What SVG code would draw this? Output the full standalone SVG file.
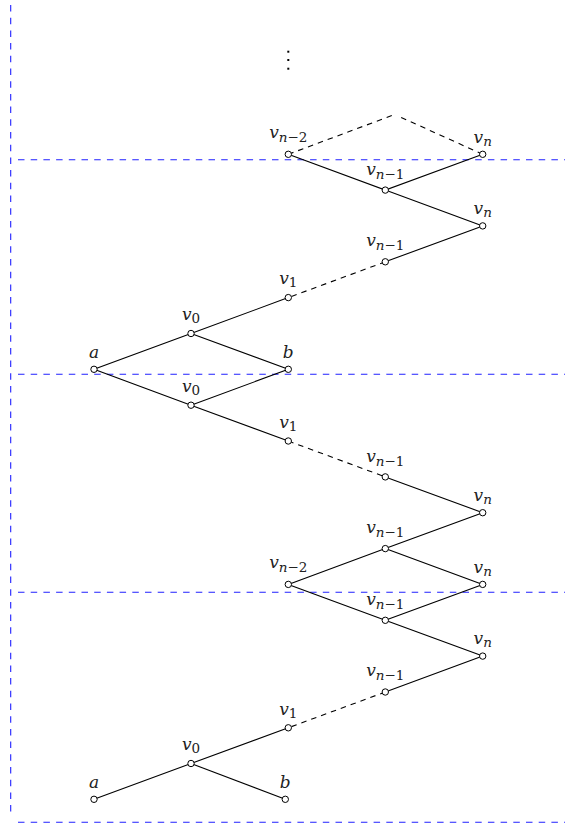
<svg xmlns="http://www.w3.org/2000/svg" width="565" height="826" viewBox="0 0 565 826">
<style>
.e{stroke:#000;stroke-width:1.1;fill:none}
.d{stroke:#000;stroke-width:1.1;fill:none;stroke-dasharray:5.5 5}
.g{stroke:#2020ff;stroke-width:1.1;fill:none;stroke-dasharray:6.5 6.2}
.n{fill:#fff;stroke:#000;stroke-width:1}
.t{font-family:'DejaVu Serif','Liberation Serif',serif;font-size:17px;fill:#222}
.i{font-style:italic}
.s{font-size:13.5px}
</style>
<rect width="565" height="826" fill="#fff"/>
<g id="guides">
<line class="g" x1="10.7" y1="5" x2="10.7" y2="812"/>
<line class="g" x1="18" y1="159.8" x2="565" y2="159.8"/>
<line class="g" x1="18" y1="374.3" x2="565" y2="374.3"/>
<line class="g" x1="18" y1="592.3" x2="565" y2="592.3"/>
<line class="g" x1="18" y1="822.3" x2="565" y2="822.3"/>
</g>
<g id="dots" fill="#000">
<rect x="287.3" y="50.7" width="2" height="2"/>
<rect x="287.3" y="59" width="2" height="2"/>
<rect x="287.3" y="67.7" width="2" height="2"/>
</g>
<g id="connectors">
<line class="d" x1="288.3" y1="154.3" x2="392" y2="115.5"/>
<line class="d" x1="482.7" y1="154.3" x2="397" y2="115.5"/>
<polyline class="e" points="288.3,154.3 385.3,190.1 482.7,154.3"/>
<polyline class="e" points="385.3,190.1 482.7,225.9 385.3,261.8"/>
<line class="d" x1="385.3" y1="261.8" x2="288.3" y2="297.6"/>
<polyline class="e" points="288.3,297.6 191,333.5 94,369.3 191,405.2 288.3,441"/>
<polyline class="e" points="191,333.5 288.3,369.3 191,405.2"/>
<line class="d" x1="288.3" y1="441" x2="385.3" y2="476.9"/>
<polyline class="e" points="385.3,476.9 482.7,512.7 385.3,548.6 482.7,584.4 385.3,620.3 482.7,656.1 385.3,692"/>
<polyline class="e" points="385.3,548.6 288.3,584.4 385.3,620.3"/>
<line class="d" x1="385.3" y1="692" x2="288.3" y2="727.8"/>
<polyline class="e" points="288.3,727.8 191,763.5 94,799.3"/>
<line class="e" x1="191" y1="763.5" x2="285.3" y2="799.3"/>
</g>
<g class="t" font-family="'DejaVu Serif','Liberation Serif',serif">
<g id="n1"><circle class="n" cx="288.3" cy="154.3" r="3.2"/><text x="288.3" y="138.3" text-anchor="middle"><tspan class="i">v</tspan><tspan class="s" dy="4"><tspan class="i">n</tspan>−2</tspan></text></g>
<g id="n2"><circle class="n" cx="482.7" cy="154.3" r="3.2"/><text x="482.7" y="142.5" text-anchor="middle"><tspan class="i">v</tspan><tspan class="s i" dy="3">n</tspan></text></g>
<g id="n3"><circle class="n" cx="385.3" cy="190.1" r="3.2"/><text x="385.3" y="174.5" text-anchor="middle"><tspan class="i">v</tspan><tspan class="s" dy="4"><tspan class="i">n</tspan>−1</tspan></text></g>
<g id="n4"><circle class="n" cx="482.7" cy="225.9" r="3.2"/><text x="482.7" y="214" text-anchor="middle"><tspan class="i">v</tspan><tspan class="s i" dy="3">n</tspan></text></g>
<g id="n5"><circle class="n" cx="385.3" cy="261.8" r="3.2"/><text x="385.3" y="246.2" text-anchor="middle"><tspan class="i">v</tspan><tspan class="s" dy="4"><tspan class="i">n</tspan>−1</tspan></text></g>
<g id="n6"><circle class="n" cx="288.3" cy="297.6" r="3.2"/><text x="288.3" y="284.3" text-anchor="middle"><tspan class="i">v</tspan><tspan class="s" dy="3">1</tspan></text></g>
<g id="n7"><circle class="n" cx="191" cy="333.5" r="3.2"/><text x="191" y="320" text-anchor="middle"><tspan class="i">v</tspan><tspan class="s" dy="3">0</tspan></text></g>
<g id="n8"><circle class="n" cx="94" cy="369.3" r="3.2"/><text class="i" x="94" y="357.5" text-anchor="middle">a</text></g>
<g id="n9"><circle class="n" cx="288.3" cy="369.3" r="3.2"/><text class="i" x="288.3" y="357.5" text-anchor="middle">b</text></g>
<g id="n10"><circle class="n" cx="191" cy="405.2" r="3.2"/><text x="191" y="391.7" text-anchor="middle"><tspan class="i">v</tspan><tspan class="s" dy="3">0</tspan></text></g>
<g id="n11"><circle class="n" cx="288.3" cy="441" r="3.2"/><text x="288.3" y="427.7" text-anchor="middle"><tspan class="i">v</tspan><tspan class="s" dy="3">1</tspan></text></g>
<g id="n12"><circle class="n" cx="385.3" cy="476.9" r="3.2"/><text x="385.3" y="461.5" text-anchor="middle"><tspan class="i">v</tspan><tspan class="s" dy="4"><tspan class="i">n</tspan>−1</tspan></text></g>
<g id="n13"><circle class="n" cx="482.7" cy="512.7" r="3.2"/><text x="482.7" y="500.5" text-anchor="middle"><tspan class="i">v</tspan><tspan class="s i" dy="3">n</tspan></text></g>
<g id="n14"><circle class="n" cx="385.3" cy="548.6" r="3.2"/><text x="385.3" y="533" text-anchor="middle"><tspan class="i">v</tspan><tspan class="s" dy="4"><tspan class="i">n</tspan>−1</tspan></text></g>
<g id="n15"><circle class="n" cx="288.3" cy="584.4" r="3.2"/><text x="288.3" y="568.4" text-anchor="middle"><tspan class="i">v</tspan><tspan class="s" dy="4"><tspan class="i">n</tspan>−2</tspan></text></g>
<g id="n16"><circle class="n" cx="482.7" cy="584.4" r="3.2"/><text x="482.7" y="572.5" text-anchor="middle"><tspan class="i">v</tspan><tspan class="s i" dy="3">n</tspan></text></g>
<g id="n17"><circle class="n" cx="385.3" cy="620.3" r="3.2"/><text x="385.3" y="604.7" text-anchor="middle"><tspan class="i">v</tspan><tspan class="s" dy="4"><tspan class="i">n</tspan>−1</tspan></text></g>
<g id="n18"><circle class="n" cx="482.7" cy="656.1" r="3.2"/><text x="482.7" y="644.3" text-anchor="middle"><tspan class="i">v</tspan><tspan class="s i" dy="3">n</tspan></text></g>
<g id="n19"><circle class="n" cx="385.3" cy="692" r="3.2"/><text x="385.3" y="676.4" text-anchor="middle"><tspan class="i">v</tspan><tspan class="s" dy="4"><tspan class="i">n</tspan>−1</tspan></text></g>
<g id="n20"><circle class="n" cx="288.3" cy="727.8" r="3.2"/><text x="288.3" y="714.5" text-anchor="middle"><tspan class="i">v</tspan><tspan class="s" dy="3">1</tspan></text></g>
<g id="n21"><circle class="n" cx="191" cy="763.5" r="3.2"/><text x="191" y="750" text-anchor="middle"><tspan class="i">v</tspan><tspan class="s" dy="3">0</tspan></text></g>
<g id="n22"><circle class="n" cx="94" cy="799.3" r="3.2"/><text class="i" x="94" y="787.5" text-anchor="middle">a</text></g>
<g id="n23"><circle class="n" cx="285.3" cy="799.3" r="3.2"/><text class="i" x="285.3" y="787.5" text-anchor="middle">b</text></g>
</g>
</svg>
